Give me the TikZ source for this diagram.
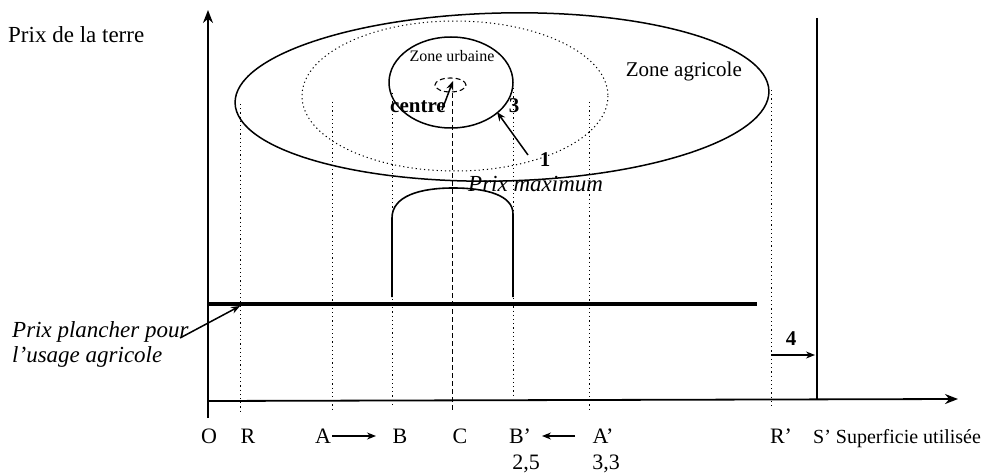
\documentclass[tikz,border=0pt]{standalone}
\usepackage{fontspec}
\setmainfont{Liberation Serif}
\usetikzlibrary{arrows.meta,shapes.geometric,calc}
\begin{document}
\begin{tikzpicture}[x=1pt,y=-1pt,
  axisline/.style={line width=1.8pt,-{Stealth[length=13pt,width=10pt]}},
  guide/.style={line width=1pt,dash pattern=on 1.2pt off 3pt},
  cguide/.style={line width=1pt,dash pattern=on 5pt off 3pt},
  zone/.style={draw,ellipse,line width=1.5pt,inner sep=0pt},
  lbl/.style={inner sep=0pt,anchor=base,font=\fontsize{22}{26}\selectfont},
  ilbl/.style={inner sep=0pt,font=\fontsize{23}{25}\selectfont\itshape},
  blbl/.style={inner sep=0pt,anchor=base,font=\fontsize{21}{24}\selectfont\bfseries},
  pointer/.style={line width=1.5pt,-{Stealth[length=9pt,width=7pt]}},
  movearrow/.style={line width=1.2pt,-{Stealth[length=9pt,width=7pt]}}]
\useasboundingbox (0,0) rectangle (992,473);
% axes
\coordinate (ybot) at (208,418);
\coordinate (ytop) at (208,10);
\coordinate (xl) at (208,401);
\coordinate (xr) at (958,399);
\draw[axisline] (ybot) -- (ytop);
\draw[axisline] (xl) -- (xr);
% zones
\node[zone,rotate=1.3,minimum width=534pt,minimum height=168pt] (agri) at (502,97) {};
\coordinate (ring) at (455,96);
\draw[guide] (ring) ellipse [x radius=153, y radius=75];
\node[zone,minimum width=124pt,minimum height=91pt] (urb) at (451,82.5) {};
\node[draw,ellipse,cguide,line width=1.1pt,minimum width=31pt,minimum height=14pt,inner sep=0pt] (ctr) at (450.5,85) {};
% guides
\coordinate (Rt) at (240,104); \coordinate (Rb) at (240,412);
\coordinate (At) at (332,102); \coordinate (Ab) at (332,410);
\coordinate (Bt) at (392,93);  \coordinate (Bb) at (392,404);
\coordinate (Ct) at (452,93);  \coordinate (Cb) at (452,412);
\coordinate (Bpt) at (513,88); \coordinate (Bpb) at (513,398);
\coordinate (Apt) at (589,102); \coordinate (Apb) at (589,410);
\coordinate (Rpt) at (771,90); \coordinate (Rpb) at (771,407);
\draw[guide] (Rt) -- (Rb);
\draw[guide] (At) -- (Ab);
\draw[guide] (Bt) -- (Bb);
\draw[cguide] (Ct) -- (Cb);
\draw[guide] (Bpt) -- (Bpb);
\draw[guide] (Apt) -- (Apb);
\draw[guide] (Rpt) -- (Rpb);
% floor price
\coordinate (fl) at (208,304); \coordinate (fr) at (757,304);
\draw[line width=3.6pt] (fl) -- (fr);
% max price curve
\draw[line width=1.6pt] (392,297) -- (392,218) .. controls (392,196) and (420,188) .. (453,188)
  .. controls (486,188) and (513,195) .. (513,214) -- (513,297);
% S' line
\coordinate (St) at (817,18); \coordinate (Sb) at (817,399);
\draw[line width=1.8pt] (St) -- (Sb);
% texts
\node[inner sep=0pt,anchor=base west,font=\fontsize{23}{26}\selectfont] (prixterre) at (8,43) {Prix de la terre};
\node[inner sep=0pt,anchor=base,font=\fontsize{16}{18}\selectfont] (zu) at (452,62) {Zone urbaine};
\node[inner sep=0pt,anchor=base east,font=\fontsize{21}{24}\selectfont] (za) at (742,77) {Zone agricole};
\node[blbl,anchor=base west] (centre) at (390,113) {centre};
\node[blbl] (n3) at (514,113) {3};
\node[blbl] (n1) at (545,167) {1};
\node[blbl] (n4) at (791,345) {4};
\node[ilbl,anchor=base west] (pmax) at (468,191) {Prix maximum};
\node[ilbl,anchor=base west,align=left] (plancher) at (12,362) {Prix plancher pour\\l'usage agricole};
\coordinate (plt) at (240,306);
\coordinate (pls) at (180,338);
% arrows
\coordinate (c1) at (442,110); \coordinate (c2) at (453,81);
\draw[pointer] (c1) -- (c2);
\coordinate (a1) at (528,155); \coordinate (a2) at (497,112);
\draw[pointer] (a1) -- (a2);
\draw[pointer] (pls) -- (plt);
\coordinate (f1) at (771,355); \coordinate (f2) at (815,355);
\draw[movearrow] (f1) -- (f2);
% bottom labels
\node[lbl] (lO) at (209,443) {O};
\node[lbl] (lR) at (248,443) {R};
\node[lbl] (lA) at (323,443) {A};
\node[lbl] (lB) at (400,443) {B};
\node[lbl] (lC) at (460,443) {C};
\node[lbl] (lBp) at (520,443) {B'};
\node[lbl] (lAp) at (603,443) {A'};
\node[lbl] (lRp) at (781,443) {R'};
\node[inner sep=0pt,anchor=base west,font=\fontsize{20}{24}\selectfont] (lS) at (813,443) {S' Superficie utilisée};
\node[lbl] (v25) at (526,469) {2,5};
\node[lbl] (v33) at (606,469) {3,3};
\coordinate (ab1) at (332,436); \coordinate (ab2) at (376,436);
\draw[movearrow] (ab1) -- (ab2);
\coordinate (ba1) at (575,436); \coordinate (ba2) at (542,436);
\draw[movearrow] (ba1) -- (ba2);
\end{tikzpicture}
\end{document}
